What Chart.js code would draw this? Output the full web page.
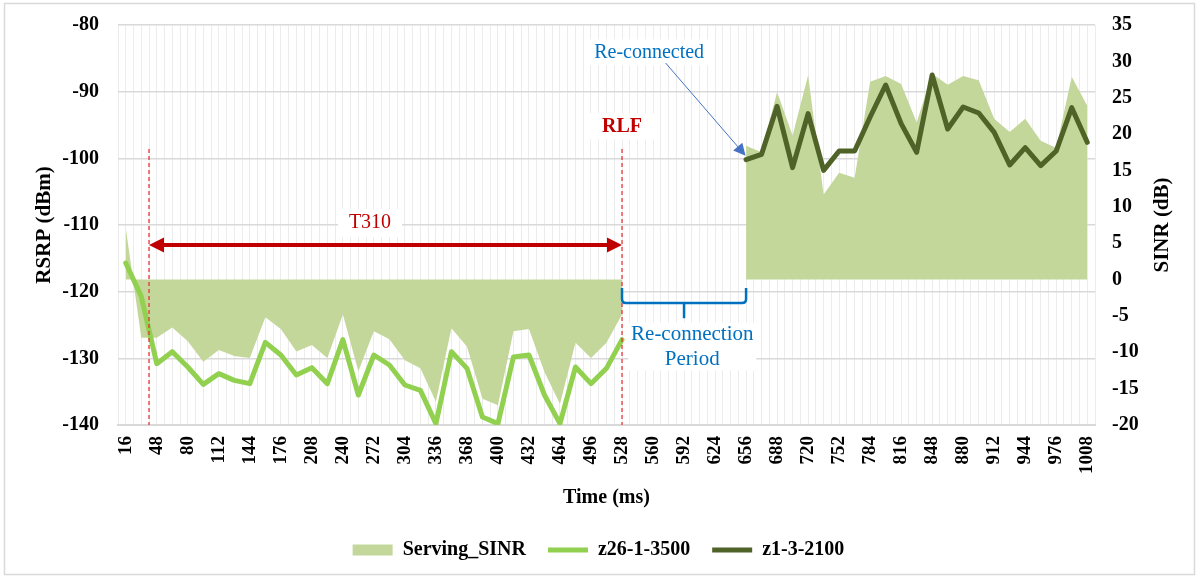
<!DOCTYPE html>
<html>
<head>
<meta charset="utf-8">
<script src="https://cdn.jsdelivr.net/npm/chart.js@4.4.0/dist/chart.umd.min.js"></script>
<style>
  html, body { margin: 0; padding: 0; background: #fff; }
  #wrap { width: 1197px; height: 578px; position: relative; }
</style>
</head>
<body>
<div id="wrap"><canvas id="chart"></canvas></div>
<script>
// time axis (ms)
const times = [16, 32, 48, 64, 80, 96, 112, 128, 144, 160, 176, 192, 208, 224, 240, 256,
  272, 288, 304, 320, 336, 352, 368, 384, 400, 416, 432, 448, 464, 480, 496, 512, 528,
  544, 560, 576, 592, 608, 624, 640, 656, 672, 688, 704, 720, 736, 752, 768, 784, 800,
  816, 832, 848, 864, 880, 896, 912, 928, 944, 960, 976, 992, 1008];

// Serving SINR (dB), gap during re-connection
const servingSinr = [7.1, -8.0, -8.0, -6.6, -8.5, -11.3, -9.7, -10.5, -10.8, -5.2, -6.8,
  -9.9, -9.0, -10.8, -4.8, -12.6, -7.1, -8.2, -11.1, -12.2, -16.8, -6.7, -9.2, -16.4,
  -17.3, -7.1, -6.8, -12.7, -17.1, -8.7, -10.8, -8.7, -4.8,
  null, null, null, null, null, null, null,
  18.4, 17.5, 25.8, 19.8, 28.1, 11.7, 14.7, 14.0, 27.2, 28.0, 26.9, 21.6, 28.3, 26.8,
  28.0, 27.4, 22.1, 20.3, 22.1, 19.1, 18.1, 27.9, 23.9];

// RSRP (dBm) of the old cell, 16..528 ms
const z26 = [-115.7, -120.7, -130.8, -129.0, -131.3, -133.9, -132.3, -133.3, -133.8,
  -127.6, -129.5, -132.5, -131.4, -133.8, -127.2, -135.5, -129.5, -131.0, -134.0,
  -134.8, -139.8, -129.0, -131.5, -138.8, -139.8, -129.8, -129.5, -135.5, -139.8,
  -131.3, -133.8, -131.5, -127.2];

// RSRP (dBm) of the new cell, 656..1008 ms
const z1 = [-100.2, -99.4, -92.2, -101.4, -93.3, -101.8, -98.9, -98.9, -93.8, -89.0,
  -94.8, -99.1, -87.5, -95.6, -92.3, -93.2, -96.1, -101.0, -98.4, -101.1, -98.9,
  -92.4, -97.6];

const rsrpRange = [-140, -80, 10];
const sinrRange = [-20, 35, 5];
const timeRange = [8, 1016, 8];

const FONT = "'Liberation Serif', 'Times New Roman', serif";

function arrowHead(ctx, tx, ty, dx, dy, len, half) {
  const l = Math.hypot(dx, dy), ux = dx / l, uy = dy / l;
  ctx.beginPath();
  ctx.moveTo(tx, ty);
  ctx.lineTo(tx - ux * len - uy * half, ty - uy * len + ux * half);
  ctx.lineTo(tx - ux * len + uy * half, ty - uy * len - ux * half);
  ctx.closePath();
  ctx.fill();
}

function boxedText(ctx, lines, cx, cy, lineGap, font, color, w, h) {
  ctx.fillStyle = '#fff';
  ctx.fillRect(cx - w / 2, cy - h / 2, w, h);
  ctx.font = font;
  ctx.fillStyle = color;
  ctx.textAlign = 'center';
  ctx.textBaseline = 'middle';
  const y0 = cy - (lines.length - 1) * lineGap / 2;
  lines.forEach((s, i) => ctx.fillText(s, cx, y0 + i * lineGap));
}

// keep tick padding from pushing the plot area down
const trimPadding = s => { s.paddingTop = 10; s.paddingBottom = 10; };

const overlay = {
  id: 'overlay',
  beforeDraw(chart) {
    const ctx = chart.ctx;
    ctx.save();
    ctx.fillStyle = '#fff';
    ctx.fillRect(0, 0, chart.width, chart.height);
    ctx.strokeStyle = '#d9d9d9';
    ctx.lineWidth = 1.5;
    ctx.strokeRect(4.5, 3.5, 1190, 571);
    ctx.restore();
  },
  afterDraw(chart) {
    const { ctx, chartArea } = chart;
    const x = chart.scales.x, y = chart.scales.y;
    const px = v => x.getPixelForValue(v);
    const py = v => y.getPixelForValue(v);
    ctx.save();

    // RLF / T310 start markers
    ctx.strokeStyle = '#e8262a';
    ctx.lineWidth = 1.2;
    ctx.setLineDash([4, 3]);
    [40, 528].forEach(t => {
      ctx.beginPath();
      ctx.moveTo(px(t), py(-98.6));
      ctx.lineTo(px(t), chartArea.bottom);
      ctx.stroke();
    });
    ctx.setLineDash([]);

    // T310 double arrow
    const ay = py(-113), a1 = px(40), a2 = px(528);
    ctx.strokeStyle = ctx.fillStyle = '#c00000';
    ctx.lineWidth = 4;
    ctx.beginPath();
    ctx.moveTo(a1 + 10, ay);
    ctx.lineTo(a2 - 10, ay);
    ctx.stroke();
    arrowHead(ctx, a1, ay, -1, 0, 15, 7.5);
    arrowHead(ctx, a2, ay, 1, 0, 15, 7.5);

    boxedText(ctx, ['T310'], px(268), py(-109.7), 0, '20px ' + FONT, '#c00000', 64, 28);
    boxedText(ctx, ['RLF'], px(528), py(-95.2), 0, 'bold 20px ' + FONT, '#c00000', 66, 26);

    // re-connected pointer
    boxedText(ctx, ['Re-connected'], px(556), py(-84.1), 0, '20px ' + FONT, '#0070c0', 122, 26);
    const s = [px(573), py(-85.7)], e = [px(655.5), py(-99.6)];
    ctx.strokeStyle = ctx.fillStyle = '#4472c4';
    ctx.lineWidth = 1;
    ctx.beginPath();
    ctx.moveTo(s[0], s[1]);
    ctx.lineTo(e[0] - (e[0] - s[0]) * 0.08, e[1] - (e[1] - s[1]) * 0.08);
    ctx.stroke();
    arrowHead(ctx, e[0], e[1], e[0] - s[0], e[1] - s[1], 12, 6);

    // re-connection bracket
    const L = px(528), R = px(656), M = px(592);
    const y0 = py(-119.45), y1 = py(-121.7), y2 = py(-124);
    ctx.strokeStyle = '#0070c0';
    ctx.lineWidth = 2.5;
    ctx.beginPath();
    ctx.moveTo(L, y0);
    ctx.lineTo(L, y1 - 4);
    ctx.quadraticCurveTo(L, y1, L + 4, y1);
    ctx.lineTo(R - 4, y1);
    ctx.quadraticCurveTo(R, y1, R, y1 - 4);
    ctx.lineTo(R, y0);
    ctx.moveTo(M, y1);
    ctx.lineTo(M, y2);
    ctx.stroke();
    boxedText(ctx, ['Re-connection', 'Period'], px(600.5), py(-128.25), 25,
      '21px ' + FONT, '#0070c0', 128, 48);

    // right axis title, reading upwards
    ctx.save();
    ctx.translate(chartArea.right + 68, (chartArea.top + chartArea.bottom) / 2);
    ctx.rotate(-Math.PI / 2);
    ctx.font = 'bold 21px ' + FONT;
    ctx.fillStyle = '#000';
    ctx.textAlign = 'center';
    ctx.textBaseline = 'middle';
    ctx.fillText('SINR (dB)', 0, 0);
    ctx.restore();

    ctx.restore();
  }
};

const toPoints = (xs, ys) => ys.map((v, i) => ({ x: xs[i], y: v }));

new Chart(document.getElementById('chart'), {
  type: 'line',
  data: {
    datasets: [
      {
        label: 'Serving_SINR',
        data: toPoints(times, servingSinr),
        yAxisID: 'y1',
        fill: 'origin',
        backgroundColor: '#c4d79b',
        borderColor: '#c4d79b',
        borderWidth: 0,
        pointRadius: 0,
        pointStyle: 'rect',
        order: 3,
      },
      {
        label: 'z26-1-3500',
        data: toPoints(times, z26),
        yAxisID: 'y',
        borderColor: '#92d050',
        backgroundColor: '#92d050',
        borderWidth: 5,
        borderJoinStyle: 'round',
        borderCapStyle: 'round',
        pointRadius: 0,
        pointStyle: 'line',
        order: 1,
      },
      {
        label: 'z1-3-2100',
        data: toPoints(times.slice(times.length - z1.length), z1),
        yAxisID: 'y',
        borderColor: '#4f6228',
        backgroundColor: '#4f6228',
        borderWidth: 5,
        borderJoinStyle: 'round',
        borderCapStyle: 'round',
        pointRadius: 0,
        pointStyle: 'line',
        order: 2,
      },
    ],
  },
  options: {
    responsive: true,
    maintainAspectRatio: false,
    animation: false,
    layout: { padding: { top: 25, left: 0, right: 0, bottom: 8 } },
    plugins: {
      tooltip: { enabled: false },
      legend: {
        position: 'bottom',
        labels: {
          usePointStyle: true,
          pointStyleWidth: 40,
          boxHeight: 11,
          padding: 22,
          color: '#000',
          font: { family: FONT, size: 20, weight: 'bold' },
          sort: (a, b) => a.datasetIndex - b.datasetIndex,
        },
      },
    },
    scales: {
      x: {
        type: 'linear',
        min: timeRange[0],
        max: timeRange[1],
        afterFit: s => { s.height = 93; },
        ticks: {
          stepSize: timeRange[2],
          autoSkip: false,
          minRotation: 90,
          maxRotation: 90,
          padding: 11,
          color: '#000',
          font: { family: FONT, size: 19, weight: 'bold' },
          callback: v => ((v - 16) % 32 === 0 ? String(v) : ''),
        },
        grid: { color: '#ececec', lineWidth: 1, drawTicks: false },
        border: { color: '#d9d9d9', width: 2 },
        title: {
          display: true,
          text: 'Time (ms)',
          color: '#000',
          font: { family: FONT, size: 20, weight: 'bold' },
          padding: { top: 0, bottom: 8 },
        },
      },
      y: {
        position: 'left',
        min: rsrpRange[0],
        max: rsrpRange[1],
        afterFit: s => { s.width = 118; trimPadding(s); },
        ticks: {
          stepSize: rsrpRange[2],
          padding: 19,
          color: '#000',
          font: { family: FONT, size: 20, weight: 'bold' },
        },
        grid: { color: '#d9d9d9', lineWidth: 1.5, drawTicks: false },
        border: { display: false },
        title: {
          display: true,
          text: 'RSRP (dBm)',
          color: '#000',
          font: { family: FONT, size: 21, weight: 'bold' },
          padding: { top: 32, bottom: 0 },
        },
      },
      y1: {
        position: 'right',
        min: sinrRange[0],
        max: sinrRange[1],
        afterFit: s => { s.width = 102; trimPadding(s); },
        ticks: {
          stepSize: sinrRange[2],
          padding: 17,
          color: '#000',
          font: { family: FONT, size: 20, weight: 'bold' },
        },
        grid: { drawOnChartArea: false, drawTicks: false },
        border: { display: false },
      },
    },
  },
  plugins: [overlay],
});
</script>
</body>
</html>
